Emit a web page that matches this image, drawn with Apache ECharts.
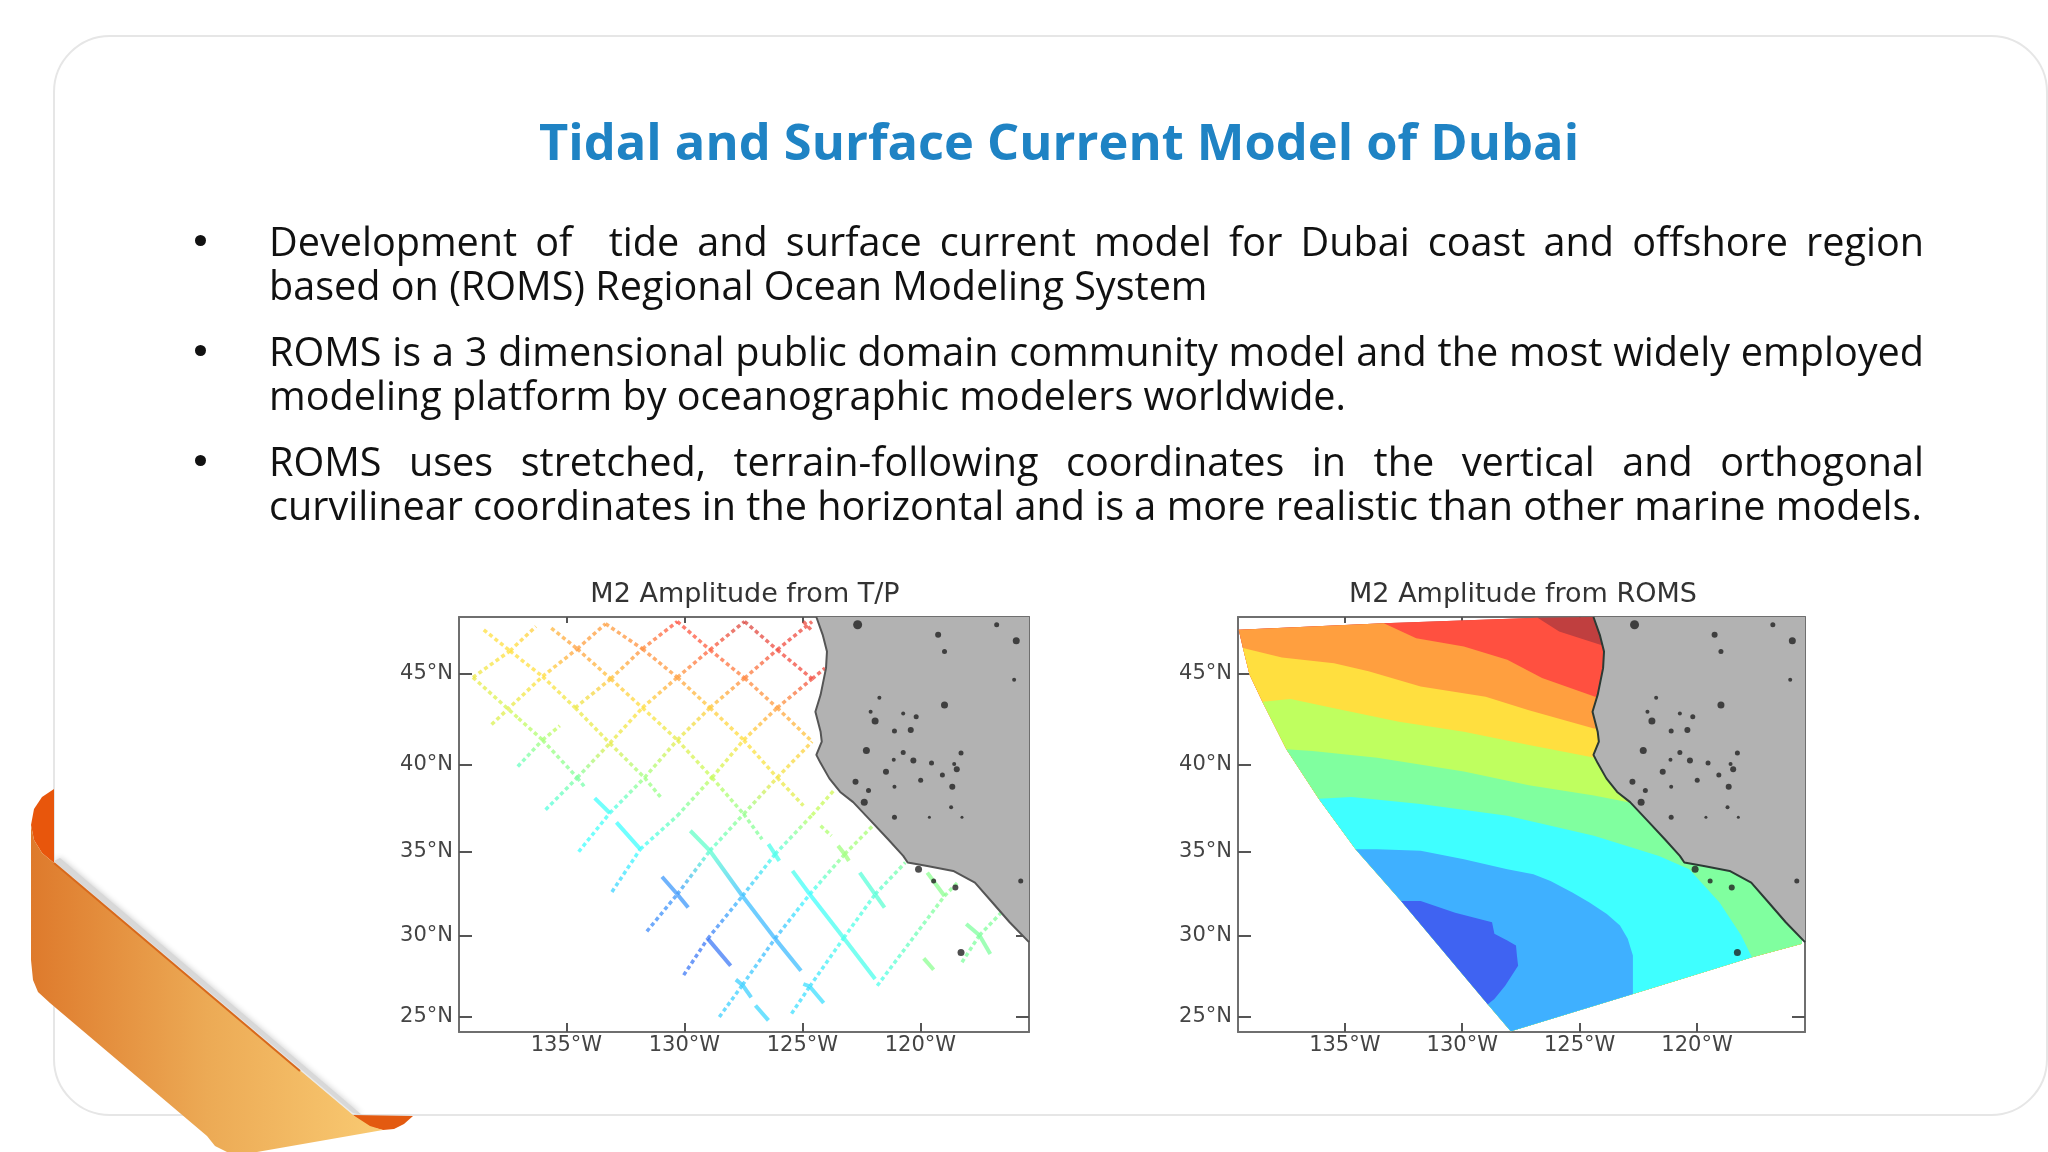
<!DOCTYPE html>
<html>
<head>
<meta charset="utf-8">
<title>Tidal and Surface Current Model of Dubai</title>
<script src="https://cdn.jsdelivr.net/npm/echarts@6/dist/echarts.min.js"></script>
<style>
  html, body { margin: 0; padding: 0; background: #fff; }
  #chart { position: absolute; left: 0; top: 0; width: 2048px; height: 1152px; }
  .line { position: absolute; left: 269px; width: 1655px; height: 44px; line-height: 44px;
    font-family: "Open Sans", sans-serif; font-size: 39.6px; color: #111; white-space: pre; }
  .just { white-space: pre-wrap; text-align: justify; text-align-last: justify; }
  .dot { position: absolute; left: 195px; width: 11px; height: 11px; border-radius: 50%; background: #111; }
</style>
</head>
<body>
<div id="chart"></div>
<div class="dot" style="top:235px"></div>
<div class="line just" style="top:219px">Development of  tide and surface current model for Dubai coast and offshore region</div>
<div class="line" style="top:263px">based on (ROMS) Regional Ocean Modeling System</div>
<div class="dot" style="top:345px"></div>
<div class="line just" style="top:329px">ROMS is a 3 dimensional public domain community model and the most widely employed</div>
<div class="line" style="top:373px">modeling platform by oceanographic modelers worldwide.</div>
<div class="dot" style="top:455px"></div>
<div class="line just" style="top:439px">ROMS uses stretched, terrain-following coordinates in the vertical and orthogonal</div>
<div class="line" style="top:483px">curvilinear coordinates in the horizontal and is a more realistic than other marine models.</div>
<script>
const slideTitle = 'Tidal and Surface Current Model of Dubai';
const plotTitles = ['M2 Amplitude from T/P', 'M2 Amplitude from ROMS'];
const lonTicks = [-135, -130, -125, -120];
const latTicks = [45, 40, 35, 30, 25];
const lonRange = [-139.55, -115.4];
const latRange = [24.05, 48.04];

// amplitude levels, dark blue up to dark red
const levelColors = ['#3f63f2', '#3fb0ff', '#3fffff', '#80ff9f', '#bfff5f', '#ffdf3f', '#ff9f3f', '#ff5040', '#c03f3f'];

// coast, [lon, lat], north to south
const coast = [
  [-124.41, 48.04], [-124.14, 47.09], [-123.96, 46.2], [-124.0, 45.3], [-124.23, 43.85],
  [-124.45, 42.92], [-124.23, 41.82], [-124.18, 41.27], [-124.41, 40.53], [-124.23, 40.07],
  [-123.86, 39.21], [-123.4, 38.44], [-122.85, 37.86], [-122.11, 36.8], [-121.37, 35.73],
  [-120.73, 34.76], [-120.54, 34.37], [-119.71, 34.17], [-118.61, 33.88], [-117.69, 33.19],
  [-116.95, 32.01], [-116.22, 30.83], [-115.4, 29.63]
];
// small lakes and islands, [lon, lat, size]
const specks = [
  [-122.66, 47.63, 9], [-119.25, 47.09, 6], [-116.77, 47.63, 5], [-115.94, 46.77, 7], [-118.98, 46.2, 5], [-116.03, 44.67, 4],
  [-121.74, 43.69, 4], [-118.98, 43.29, 7], [-122.11, 42.92, 4], [-121.92, 42.41, 7], [-120.73, 42.83, 4], [-120.18, 42.65, 5],
  [-121.1, 41.86, 5], [-120.41, 41.91, 6], [-122.29, 40.77, 7], [-120.73, 40.66, 5], [-121.13, 40.26, 4], [-120.3, 40.22, 6],
  [-119.53, 40.07, 5], [-118.28, 40.63, 5], [-118.57, 40.02, 4], [-118.46, 39.73, 6], [-121.46, 39.59, 6], [-119.07, 39.4, 5],
  [-119.99, 39.11, 5], [-122.75, 39.02, 6], [-122.2, 38.53, 5], [-121.1, 38.73, 4], [-118.65, 38.73, 6], [-122.38, 37.86, 7],
  [-118.7, 37.57, 4], [-121.1, 36.99, 5], [-119.62, 36.99, 3], [-118.24, 36.99, 3], [-120.08, 33.98, 7], [-118.52, 32.9, 6],
  [-119.44, 33.29, 5], [-115.75, 33.29, 5], [-118.28, 29.0, 7]
];

// satellite tracks, [lon, lat, amplitude level]
const dottedTracks = [
  [[-138.96, 44.8, 4.7], [-137.39, 46.23, 5], [-136.29, 47.54, 5.3]],
  [[-138.17, 42.22, 4.4], [-136.01, 44.85, 5], [-134.54, 46.34, 6], [-133.34, 47.68, 6]],
  [[-137.06, 39.88, 2.6], [-136.01, 41.36, 3.6], [-135.28, 42.15, 4.2]],
  [[-134.63, 43.14, 4.7], [-133.12, 44.72, 5.4], [-131.78, 46.34, 6.2], [-130.3, 47.8, 7]],
  [[-135.88, 37.43, 2.3], [-134.54, 39.25, 3], [-133.16, 41.18, 4.6], [-131.78, 43.14, 5], [-130.3, 44.8, 6], [-128.92, 46.29, 6.8], [-127.45, 47.8, 7.6]],
  [[-134.48, 35, 2], [-133.16, 37.24, 2.1], [-131.69, 39.25, 3.5], [-130.3, 41.36, 4.6], [-128.92, 43.14, 5.3], [-127.45, 44.76, 6.3], [-126.07, 46.29, 7.2], [-124.59, 47.8, 7.3]],
  [[-133.07, 32.64, 1.4], [-131.87, 35.15, 2], [-130.3, 37.08, 2.8], [-128.83, 39.25, 4.1], [-127.49, 41.36, 5], [-126.07, 43.14, 6], [-124.59, 44.72, 7.2], [-124.04, 45.3, 7.2]],
  [[-131.59, 30.28, 0.5], [-130.3, 32.5, 0.7], [-128.92, 35.06, 2.5], [-127.49, 37.18, 3.3], [-126.07, 39.25, 4.8], [-124.59, 41.27, 5.3]],
  [[-130.03, 27.61, 0.3], [-129.01, 29.84, 0.3], [-127.54, 32.4, 1.2], [-126.16, 34.86, 2.2], [-124.59, 37.12, 4], [-123.67, 38.53, 4.3]],
  [[-128.52, 25, 1.4], [-127.54, 27, 1.4], [-126.16, 29.84, 1.1], [-124.69, 32.5, 2], [-123.21, 34.86, 3.5], [-122.02, 36.51, 3.7]],
  [[-125.46, 25.21, 1.6], [-124.69, 26.91, 1.6], [-123.25, 29.88, 2.2], [-121.92, 32.5, 2.4], [-120.64, 34.37, 3]],
  [[-121.83, 26.95, 2.2], [-118.98, 32.4, 3.2], [-118.43, 33.19, 3.2]],
  [[-118.24, 28.4, 3], [-117.5, 30.04, 3], [-116.58, 31.4, 3.1]],
  [[-138.96, 44.8, 4.7], [-137.03, 42.56, 4.2], [-136.01, 41.36, 3.6], [-134.54, 39.25, 3], [-134.17, 38.63, 2.8]],
  [[-138.5, 47.36, 5], [-137.39, 46.23, 5], [-136.01, 44.85, 5], [-134.63, 43.14, 4.7], [-133.16, 41.18, 4.6], [-131.69, 39.25, 3.5], [-130.95, 38.05, 3.3]],
  [[-135.64, 47.45, 5.6], [-134.54, 46.34, 6], [-133.12, 44.72, 5.4], [-131.78, 43.14, 5], [-130.3, 41.36, 4.6], [-128.83, 39.25, 4.1], [-127.49, 37.18, 3.3], [-126.71, 35.73, 3]],
  [[-133.34, 47.68, 6], [-131.78, 46.34, 6.2], [-130.3, 44.8, 6], [-128.92, 43.14, 5.3], [-127.49, 41.36, 5], [-126.07, 39.25, 4.8], [-124.96, 37.66, 4.4]],
  [[-130.3, 47.8, 7], [-128.92, 46.29, 6.8], [-127.45, 44.76, 6.3], [-126.07, 43.14, 6], [-124.59, 41.27, 5.3]],
  [[-127.45, 47.8, 7.6], [-126.07, 46.29, 7.2], [-124.59, 44.72, 7.2]],
  [[-124.96, 47.8, 7.3], [-124.59, 47.3, 7.3]],
  [[-124.23, 36.51, 3.8], [-123.77, 35.93, 3.7]]
];
const solidTracks = [
  [[-133.8, 38.09, 2], [-133.16, 37.24, 2.1]],
  [[-132.88, 36.7, 2], [-131.87, 35.15, 2]],
  [[-129.75, 36.22, 2.6], [-128.92, 35.06, 2.5], [-127.54, 32.4, 1.2], [-126.16, 29.84, 1.1], [-125.06, 27.88, 1.2]],
  [[-130.95, 33.54, 0.7], [-130.3, 32.5, 0.7], [-129.84, 31.71, 0.7]],
  [[-129.01, 29.84, 0.3], [-128.04, 28.19, 0.3]],
  [[-127.82, 27.33, 1.4], [-127.54, 27, 1.4], [-127.17, 26.23, 1.4]],
  [[-126.99, 25.72, 1.5], [-126.44, 24.79, 1.5]],
  [[-125.42, 33.88, 2.2], [-124.69, 32.5, 2], [-123.25, 29.88, 2.2], [-121.92, 27.37, 2.2]],
  [[-124.96, 27.06, 1.6], [-124.69, 26.91, 1.6], [-124.1, 25.88, 1.6]],
  [[-126.44, 35.44, 2.2], [-126.16, 34.86, 2.2], [-125.98, 34.47, 2.2]],
  [[-123.49, 35.35, 3.5], [-123.21, 34.86, 3.5], [-123.03, 34.47, 3.5]],
  [[-122.57, 33.78, 2.4], [-121.92, 32.5, 2.4], [-121.52, 31.71, 2.5]],
  [[-119.71, 33.78, 3.2], [-118.98, 32.4, 3.2]],
  [[-118.06, 30.73, 3], [-117.5, 30.04, 3], [-117.04, 28.91, 3]],
  [[-119.86, 28.64, 3.2], [-119.44, 27.94, 3.2]]
];

// model domain outline, from the south east corner round to the coast in the north
const domainEdge = [
  [-115.53, 29.53], [-117.66, 28.7], [-122.73, 26.44], [-127.93, 24.1], [-128.91, 25.8], [-132.6, 32.1],
  [-134.54, 35.15], [-136.11, 38.05], [-137.49, 40.85], [-138.51, 43.47], [-139.06, 44.95], [-139.34, 46.38],
  [-139.52, 47.36], [-133.34, 47.71], [-126.79, 48.0], [-124.3, 48.04]
];
// contours between the levels, lowest first
const contours = [
  [[-131.77, 32.1], [-130.3, 31.4], [-128.73, 30.83], [-128.63, 30.14], [-128.08, 29.73], [-127.71, 29.43], [-127.67, 28.81], [-127.62, 28.19], [-128.17, 26.95], [-128.63, 26.13]],
  [[-133.62, 35.15], [-131.77, 35.06], [-129.93, 34.57], [-128.08, 33.98], [-126.97, 33.68], [-126.24, 33.29], [-125.31, 32.6], [-124.58, 32.01], [-123.84, 31.32], [-123.28, 30.63], [-122.95, 29.84], [-122.73, 28.81], [-122.73, 27.57]],
  [[-134.72, 38.15], [-131.77, 37.76], [-128.08, 37.08], [-124.39, 35.93], [-121.62, 34.76], [-120.33, 33.98], [-119.04, 32.01], [-118.12, 30.04]],
  [[-136.38, 40.75], [-133.62, 40.37], [-129.93, 39.6], [-127.16, 38.82], [-124.39, 38.24], [-122.92, 37.86]],
  [[-137.31, 43.62], [-135.46, 43.11], [-132.69, 42.37], [-129.93, 41.82], [-127.16, 41.08], [-124.3, 40.35]],
  [[-137.68, 45.88], [-135.46, 45.57], [-133.99, 45.13], [-131.77, 44.3], [-129.0, 43.75], [-127.16, 43.01], [-124.39, 42.0]],
  [[-131.96, 46.91], [-129.93, 46.46], [-128.08, 45.75], [-126.6, 44.76], [-124.34, 43.75]],
  [[-125.87, 47.27], [-124.02, 46.52]]
];
const contourStartEdge = [5, 6, 7, 8, 9, 11, 13, 14];
const contourEndEdge = [4, 2, 1, 0, 0, 0, 0, 0];

// the map is stretched with latitude, the ticks are not evenly spaced
function proj(lat) {
  return lat + 0.00509 * lat * lat;
}

function levelColor(level) {
  let i = Math.min(Math.floor(level), levelColors.length - 2);
  let t = level - i;
  let a = echarts.color.parse(levelColors[i]);
  let b = echarts.color.parse(levelColors[i + 1]);
  return 'rgb(' + [0, 1, 2].map(k => Math.round(a[k] + (b[k] - a[k]) * t)).join(',') + ')';
}

// one polygon for every level, painted from the highest level down
function bandPolygons() {
  let bands = [{ level: 8, pts: domainEdge.concat([[lonRange[1], latRange[1]]]) }];
  for (let i = contours.length - 1; i >= 0; i--) {
    let c = contours[i];
    let pts = [domainEdge[contourStartEdge[i]]].concat(c);
    if (contourEndEdge[i] === 0) {
      pts.push([lonRange[1], c[c.length - 1][1]]);
    }
    pts = pts.concat(domainEdge.slice(contourEndEdge[i], contourStartEdge[i]));
    bands.push({ level: i, pts: pts });
  }
  return bands;
}

function polygonSeries(index, polys) {
  return {
    type: 'custom',
    xAxisIndex: index * 2,
    yAxisIndex: index * 2,
    silent: true,
    z: 2,
    data: polys.map((p, i) => [i]),
    renderItem: (params, api) => {
      let p = polys[api.value(0)];
      return {
        type: 'polygon',
        shape: { points: p.pts.map(d => api.coord([d[0], proj(d[1])])) },
        style: { fill: p.fill }
      };
    }
  };
}

function trackSeries(tracks, dash, width) {
  let segments = [];
  tracks.forEach(t => {
    for (let i = 0; i < t.length - 1; i++) {
      segments.push([t[i][0], proj(t[i][1]), t[i + 1][0], proj(t[i + 1][1]), t[i][2], t[i + 1][2]]);
    }
  });
  return {
    type: 'custom',
    xAxisIndex: 0,
    yAxisIndex: 0,
    silent: true,
    z: 3,
    encode: { x: [0, 2], y: [1, 3] },
    data: segments,
    renderItem: (params, api) => {
      let a = api.coord([api.value(0), api.value(1)]);
      let b = api.coord([api.value(2), api.value(3)]);
      return {
        type: 'line',
        shape: { x1: a[0], y1: a[1], x2: b[0], y2: b[1] },
        style: {
          stroke: new echarts.graphic.LinearGradient(a[0], a[1], b[0], b[1], [
            { offset: 0, color: levelColor(api.value(4)) },
            { offset: 1, color: levelColor(api.value(5)) }
          ], true),
          lineWidth: width,
          lineDash: dash,
          opacity: 0.75
        }
      };
    }
  };
}

function landSeries(index) {
  let land = coast.concat([[lonRange[1], latRange[1]]]);
  return [
    Object.assign(polygonSeries(index, [{ pts: land, fill: '#b2b2b2' }]), { z: 4 }),
    {
      type: 'line',
      xAxisIndex: index * 2,
      yAxisIndex: index * 2,
      silent: true,
      z: 5,
      showSymbol: false,
      lineStyle: { color: index ? '#2c3a34' : '#555', width: 2 },
      data: coast.map(d => [d[0], proj(d[1])])
    },
    {
      type: 'scatter',
      xAxisIndex: index * 2,
      yAxisIndex: index * 2,
      silent: true,
      z: 6,
      symbolSize: d => d[2],
      itemStyle: { color: '#222' },
      data: specks.map(d => [d[0], proj(d[1]), d[2]])
    }
  ];
}

function lonAxis(gridIndex, position) {
  let bottom = position === 'bottom';
  return {
    type: 'value',
    gridIndex: gridIndex,
    position: position,
    min: lonRange[0],
    max: lonRange[1],
    splitLine: { show: false },
    axisLine: { show: true, onZero: false, lineStyle: { color: '#6f6f6f', width: 2 } },
    axisTick: { show: true, inside: true, length: bottom ? 9 : 6, customValues: lonTicks, lineStyle: { color: '#555', width: 2 } },
    axisLabel: {
      show: bottom,
      customValues: lonTicks,
      margin: 3,
      fontFamily: 'DejaVu Sans',
      fontSize: 21,
      color: '#444',
      formatter: v => Math.abs(v) + '°W'
    }
  };
}

function latAxis(gridIndex, position) {
  let left = position === 'left';
  return {
    type: 'value',
    gridIndex: gridIndex,
    position: position,
    min: proj(latRange[0]),
    max: proj(latRange[1]),
    splitLine: { show: false },
    axisLine: { show: true, onZero: false, lineStyle: { color: '#6f6f6f', width: 2 } },
    axisTick: { show: true, inside: true, length: 13, customValues: latTicks.map(proj), lineStyle: { color: '#555', width: 2 } },
    axisLabel: {
      show: left,
      customValues: latTicks.map(proj),
      margin: 6,
      fontFamily: 'DejaVu Sans',
      fontSize: 21,
      color: '#444',
      formatter: v => latTicks.find(t => Math.abs(proj(t) - v) < 0.01) + '°N'
    }
  };
}

const chart = echarts.init(document.getElementById('chart'), null, { renderer: 'canvas' });
const bandPolys = bandPolygons().map(b => ({ pts: b.pts, fill: levelColors[b.level] }));

chart.setOption({
  animation: false,
  backgroundColor: '#fff',
  title: [
    {
      text: slideTitle, left: 1054, top: 141, textAlign: 'center', textVerticalAlign: 'middle',
      textStyle: { fontFamily: 'Open Sans', fontWeight: 'bold', fontSize: 50.6, color: '#1f83c4' }
    },
    {
      text: plotTitles[0], left: 740, top: 590, textAlign: 'center', textVerticalAlign: 'middle',
      textStyle: { fontFamily: 'DejaVu Sans', fontWeight: 'normal', fontSize: 27, color: '#333' }
    },
    {
      text: plotTitles[1], left: 1518, top: 590, textAlign: 'center', textVerticalAlign: 'middle',
      textStyle: { fontFamily: 'DejaVu Sans', fontWeight: 'normal', fontSize: 27, color: '#333' }
    }
  ],
  grid: [
    { left: 459, top: 617, width: 570, height: 415 },
    { left: 1238, top: 617, width: 567, height: 415 }
  ],
  xAxis: [lonAxis(0, 'bottom'), lonAxis(0, 'top'), lonAxis(1, 'bottom'), lonAxis(1, 'top')],
  yAxis: [latAxis(0, 'left'), latAxis(0, 'right'), latAxis(1, 'left'), latAxis(1, 'right')],
  series: [
    trackSeries(dottedTracks, [4, 3], 3.5),
    trackSeries(solidTracks, null, 4),
    ...landSeries(0),
    polygonSeries(1, bandPolys),
    ...landSeries(1)
  ],
  graphic: [
    // slide card and the orange ribbon
    {
      type: 'rect', z: -10,
      shape: { x: 54, y: 36, width: 1993, height: 1079, r: 56 },
      style: { fill: '#fff', stroke: '#e6e6e6', lineWidth: 2 }
    },
    {
      type: 'polygon', z: -9,
      shape: { points: [[54, 861], [353, 1113], [362, 1115], [60, 858]] },
      style: { fill: '#d8d8d8', shadowBlur: 6, shadowColor: '#c4c4c4' }
    },
    {
      type: 'polygon', z: -8,
      shape: { points: [[54, 789], [42, 797], [34, 809], [31, 825], [34, 840], [42, 853], [54, 863]] },
      style: { fill: '#e8560c' }
    },
    {
      type: 'polygon', z: -8,
      shape: { points: [[353, 1115], [413, 1116], [404, 1124], [394, 1129], [383, 1130], [370, 1127], [360, 1122]] },
      style: { fill: '#e35a10' }
    },
    {
      type: 'polygon', z: -7,
      shape: { points: [[31, 825], [34, 840], [42, 853], [54, 863], [353, 1115], [370, 1126], [383, 1130], [257, 1152], [227, 1152], [215, 1146], [207, 1136], [50, 1003], [38, 992], [33, 980], [31, 960]] },
      style: {
        fill: new echarts.graphic.LinearGradient(31, 0, 383, 0, [
          { offset: 0, color: '#de7a2c' },
          { offset: 0.5, color: '#ecaa55' },
          { offset: 1, color: '#f9ca72' }
        ], true)
      }
    },
    {
      type: 'line', z: -6,
      shape: { x1: 54, y1: 863, x2: 300, y2: 1071 },
      style: { stroke: '#d8691c', lineWidth: 2 }
    }
  ]
});
</script>
</body>
</html>
